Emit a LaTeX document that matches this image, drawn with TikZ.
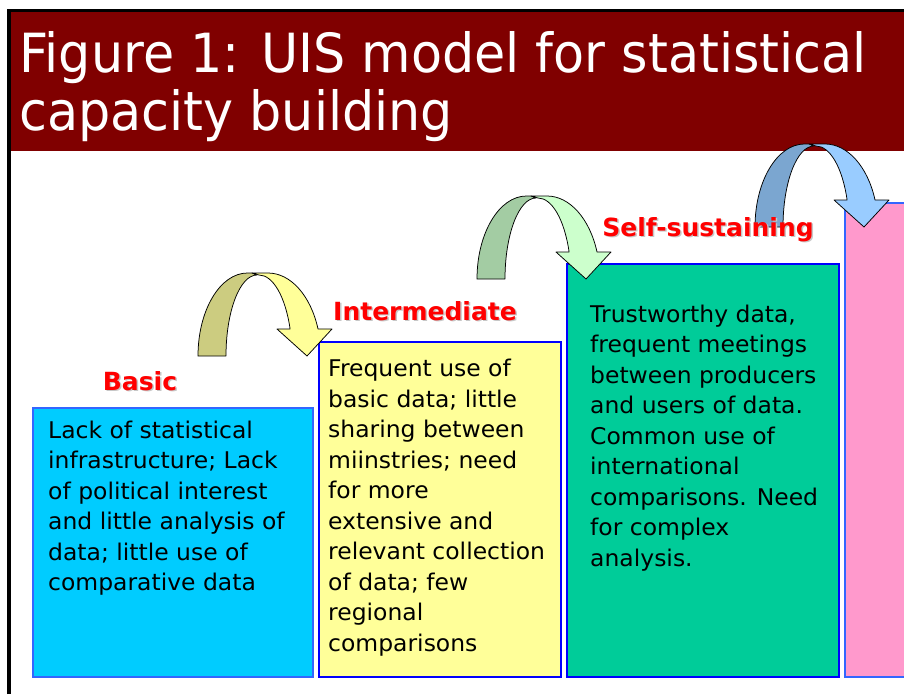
\documentclass[tikz,border=0pt]{standalone}
\usepackage{fontspec}
\newfontfamily\titlefont[FakeStretch=0.94]{DejaVu Sans}
\newfontfamily\bodyfont[FakeStretch=1.02]{DejaVu Sans}
\newfontfamily\labelfont{DejaVu Sans}
\definecolor{barred}{HTML}{800000}
\definecolor{stagered}{HTML}{FF0000}
\definecolor{basicfill}{HTML}{00CCFF}
\definecolor{interfill}{HTML}{FFFF99}
\definecolor{selffill}{HTML}{00CC99}
\definecolor{pinkfill}{HTML}{FF99CC}
\definecolor{softblue}{HTML}{3366FF}
\definecolor{pureblue}{HTML}{0000FF}
\definecolor{oliveback}{HTML}{CCCC80}
\definecolor{olivefront}{HTML}{FFFF99}
\definecolor{sageback}{HTML}{A3CCA3}
\definecolor{sagefront}{HTML}{CCFFCC}
\definecolor{skyback}{HTML}{7BA6D0}
\definecolor{skyfront}{HTML}{99CCFF}
\tikzset{
  panel/.style={draw, line width=2.5pt, anchor=north west, inner sep=0pt, outer sep=0pt},
  bodytext/.style={anchor=base west, inner sep=0pt, font=\bodyfont\fontsize{23}{30.5}\selectfont},
  stage/.style={anchor=base, inner sep=0pt, text=stagered, font=\labelfont\bfseries\fontsize{25}{30}\selectfont},
  stageshadow/.style={anchor=base, inner sep=0pt, text=black!22, font=\labelfont\bfseries\fontsize{25}{30}\selectfont},
  arrowedge/.style={draw=black, line width=0.75pt, line join=round},
  pics/bentarrow/.style 2 args={code={
    \path[fill=#1, arrowedge] (-60pt,0pt)
      arc[start angle=180, end angle=90, x radius=49.5pt, y radius=83pt]
      -- (-6pt,83pt) -- (-1pt,81pt)
      arc[start angle=90, end angle=180, x radius=31pt, y radius=81pt] -- cycle;
    \path[fill=#2, arrowedge] (-6pt,83pt) -- (10pt,83pt)
      arc[start angle=90, end angle=19, x radius=52.9pt, y radius=83pt]
      -- (74pt,27pt) -- (49pt,0pt) -- (19pt,27pt) -- (32.1pt,27pt)
      arc[start angle=19.47, end angle=90, x radius=33pt, y radius=81pt] -- cycle;
  }}
}
\begin{document}
\begin{tikzpicture}[x=1pt, y=-1pt]
\clip (0,0) rectangle (904,694);
\fill[white] (0,0) rectangle (904,694);
% frame and title bar
\draw[line width=3.5pt] (9,694) -- (9,10.5) -- (904,10.5);
\fill[barred] (10.5,12) rectangle (904,151);
\node[anchor=base west, inner sep=0pt, text=white, font=\titlefont\fontsize{54}{58}\selectfont] (title) at (19,72)
  {\parbox[t]{880pt}{\raggedright Figure 1: UIS model for statistical\\capacity building}};
% panels
\node[panel, draw=softblue, fill=basicfill, minimum width=280pt, minimum height=269pt] (basicbox) at (33,408) {};
\node[panel, draw=pureblue, fill=interfill, minimum width=242pt, minimum height=335pt] (interbox) at (319,342) {};
\node[panel, draw=pureblue, fill=selffill, minimum width=272pt, minimum height=413pt] (selfbox) at (567,264) {};
\node[panel, draw=softblue, fill=pinkfill, minimum width=80pt, minimum height=474pt] (pinkbox) at (845,203) {};
% texts
\node[bodytext] (basictext) at (48,438) {\parbox[t]{262pt}{\raggedright
  Lack of statistical\\infrastructure; Lack\\of political interest\\and little analysis of\\data; little use of\\comparative data}};
\node[bodytext] (intertext) at (328,376.5) {\parbox[t]{230pt}{\raggedright
  Frequent use of\\basic data; little\\sharing between\\miinstries; need\\for more\\extensive and\\relevant collection\\of data; few\\regional\\comparisons}};
\node[bodytext] (selftext) at (590,322) {\parbox[t]{245pt}{\raggedright
  Trustworthy data,\\frequent meetings\\between producers\\and users of data.\\Common use of\\international\\comparisons. Need\\for complex\\analysis.}};
% curved arrows
\pic at (258,356) {bentarrow={oliveback}{olivefront}};
\pic at (537,279) {bentarrow={sageback}{sagefront}};
\pic at (815,227) {bentarrow={skyback}{skyfront}};
% stage labels
\node[stageshadow] (basicshadow) at (141.5,391.5) {Basic};
\node[stage] (basiclabel) at (140,390) {Basic};
\node[stageshadow] (intershadow) at (426.5,321.5) {Intermediate};
\node[stage] (interlabel) at (425,320) {Intermediate};
\node[stageshadow] (selfshadow) at (709.5,237.5) {Self-sustaining};
\node[stage] (selflabel) at (708,236) {Self-sustaining};
\end{tikzpicture}
\end{document}
